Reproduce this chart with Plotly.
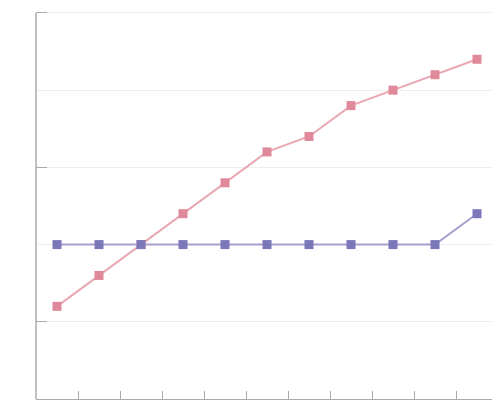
import plotly.graph_objects as go

categories = ["1", "2", "3", "4", "5", "6", "7", "8", "9", "10", "11"]
series_pink = [6, 8, 10, 12, 14, 16, 17, 19, 20, 21, 22]
series_blue = [10, 10, 10, 10, 10, 10, 10, 10, 10, 10, 12]

fig = go.Figure()
fig.add_trace(go.Scatter(
    x=categories, y=series_pink, mode="lines+markers",
    line=dict(color="#e9a7b2", width=2),
    marker=dict(symbol="square", size=9, color="#e0899a"),
    showlegend=False, cliponaxis=False,
))
fig.add_trace(go.Scatter(
    x=categories, y=series_blue, mode="lines+markers",
    line=dict(color="#a99dcd", width=2),
    marker=dict(symbol="square", size=9, color="#7b77b8"),
    showlegend=False, cliponaxis=False,
))

fig.update_layout(
    width=500, height=400,
    margin=dict(l=28, r=0, t=0, b=9),
    paper_bgcolor="white", plot_bgcolor="white",
    xaxis=dict(
        type="category", range=[-0.5, 10.738],
        showgrid=False, zeroline=False,
        showline=True, linecolor="#aaaaaa", linewidth=1.5,
        ticks="inside", ticklen=8, tickcolor="#aaaaaa", tickwidth=1,
        tickson="boundaries",
        showticklabels=False,
    ),
    yaxis=dict(
        range=[0, 25.32],
        tick0=5, dtick=10,
        showgrid=True, gridcolor="#eeeeee", gridwidth=1,
        zeroline=False,
        showline=False,
        ticks="inside", ticklen=11, tickcolor="#aaaaaa", tickwidth=1,
        showticklabels=False,
        minor=dict(tick0=0, dtick=5, showgrid=True, gridcolor="#eeeeee", ticks=""),
    ),
    shapes=[dict(type="line", xref="paper", yref="y", x0=0, x1=0, y0=0, y1=25,
                 line=dict(color="#aaaaaa", width=1.5))],
)

fig.write_html("out.html", post_script="document.documentElement.style.overflow='hidden';document.body.style.overflow='hidden';")
